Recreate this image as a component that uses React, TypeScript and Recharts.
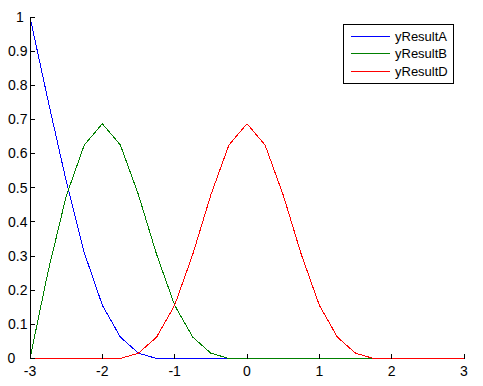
import { LineChart, Line, XAxis, YAxis, Legend } from "recharts";

// sample grid, step 0.25
const xValues = [
  -3, -2.75, -2.5, -2.25, -2, -1.75, -1.5, -1.25, -1, -0.75, -0.5, -0.25, 0,
  0.25, 0.5, 0.75, 1, 1.25, 1.5, 1.75, 2, 2.25, 2.5, 2.75, 3,
];

const yResultA = [
  1, 0.755, 0.52, 0.31, 0.156, 0.0625, 0.0156, 0, 0, 0, 0, 0, 0, 0, 0, 0, 0,
  0, 0, 0, 0, 0, 0, 0, 0,
];
const yResultB = [
  0, 0.255, 0.475, 0.625, 0.6875, 0.625, 0.479, 0.305, 0.156, 0.0625, 0.0156,
  0, 0, 0, 0, 0, 0, 0, 0, 0, 0, 0, 0, 0, 0,
];
const yResultD = [
  0, 0, 0, 0, 0, 0, 0.0156, 0.0625, 0.156, 0.305, 0.479, 0.625, 0.6875, 0.625,
  0.479, 0.305, 0.156, 0.0625, 0.0156, 0, 0, 0, 0, 0, 0,
];

const xTicks = [-3, -2, -1, 0, 1, 2, 3];
const yTicks = [0, 0.1, 0.2, 0.3, 0.4, 0.5, 0.6, 0.7, 0.8, 0.9, 1];
// tiny pad below zero so the zero-valued segments land inside the plot box
const yDomain = [-0.0015, 1];

const series = [
  { key: "yResultA", color: "#0000ff" },
  { key: "yResultB", color: "#008000" },
  { key: "yResultD", color: "#ff0000" },
];

const data = xValues.map((x, i) => ({
  x,
  yResultA: yResultA[i],
  yResultB: yResultB[i],
  yResultD: yResultD[i],
}));

const FONT = '"Liberation Sans", Arial, sans-serif';
const TICK = 5;

function BottomTick(props: any) {
  const { x, y, payload } = props;
  return (
    <g>
      <line x1={x} x2={x} y1={y} y2={y - TICK} stroke="#000" shapeRendering="crispEdges" />
      <text x={x} y={y + 17} textAnchor="middle" fontFamily={FONT} fontSize={14} fill="#000">
        {String(payload.value)}
      </text>
    </g>
  );
}

function TopTick(props: any) {
  const { x, y } = props;
  return <line x1={x} x2={x} y1={y} y2={y + TICK} stroke="#000" shapeRendering="crispEdges" />;
}

function LeftTick(props: any) {
  const { x, y, payload } = props;
  const label = String(payload.value);
  let tx = x - 2.5;
  let anchor = "end";
  if (label === "0") {
    tx = x - 22.5;
    anchor = "start";
  } else if (label === "1") {
    tx = x - 10;
    anchor = "middle";
  }
  return (
    <g>
      <line x1={x} x2={x + TICK} y1={y} y2={y} stroke="#000" shapeRendering="crispEdges" />
      <text x={tx} y={y} dy="0.35em" textAnchor={anchor} fontFamily={FONT} fontSize={14} fill="#000">
        {label}
      </text>
    </g>
  );
}

function RightTick(props: any) {
  const { x, y } = props;
  return <line x1={x} x2={x - TICK} y1={y} y2={y} stroke="#000" shapeRendering="crispEdges" />;
}

function LegendBox() {
  return (
    <svg width={111} height={60} style={{ display: "block" }}>
      <rect x={0.5} y={0.5} width={110} height={59} fill="#fff" stroke="#000" shapeRendering="crispEdges" />
      {series.map((s, i) => {
        const cy = 12 + i * 17.7;
        return (
          <g key={s.key}>
            <line x1={8} x2={47} y1={cy} y2={cy} stroke={s.color} shapeRendering="crispEdges" />
            <text x={52} y={cy} dy="0.36em" fontFamily={FONT} fontSize={13} fill="#000">
              {s.key}
            </text>
          </g>
        );
      })}
    </svg>
  );
}

export default function App() {
  return (
    <div style={{ position: "absolute", left: 0, top: 0, background: "#fff" }}>
      <LineChart
        width={483}
        height={386}
        data={data}
        margin={{ top: 17, right: 19, left: 0, bottom: 0 }}
      >
        <XAxis
          dataKey="x"
          type="number"
          domain={[-3, 3]}
          ticks={xTicks}
          height={27}
          tickSize={0}
          tickMargin={0}
          tickLine={false}
          axisLine={false}
          tick={<BottomTick />}
          interval={0}
        />
        <XAxis
          xAxisId="top"
          orientation="top"
          dataKey="x"
          type="number"
          domain={[-3, 3]}
          ticks={xTicks}
          height={0}
          tickSize={0}
          tickMargin={0}
          tickLine={false}
          axisLine={{ stroke: "#000", shapeRendering: "crispEdges" }}
          tick={<TopTick />}
          interval={0}
        />
        <YAxis
          type="number"
          domain={yDomain}
          ticks={yTicks}
          width={30}
          tickSize={0}
          tickMargin={0}
          tickLine={false}
          axisLine={{ stroke: "#000", shapeRendering: "crispEdges" }}
          tick={<LeftTick />}
          interval={0}
        />
        <YAxis
          yAxisId="right"
          orientation="right"
          type="number"
          domain={yDomain}
          ticks={yTicks}
          width={0}
          tickSize={0}
          tickMargin={0}
          tickLine={false}
          axisLine={{ stroke: "#000", shapeRendering: "crispEdges" }}
          tick={<RightTick />}
          interval={0}
        />
        {series.map((s) => (
          <Line
            key={s.key}
            dataKey={s.key}
            type="linear"
            stroke={s.color}
            strokeWidth={1}
            shapeRendering="crispEdges"
            dot={false}
            activeDot={false}
            isAnimationActive={false}
          />
        ))}
        <Legend
          layout="vertical"
          align="center"
          verticalAlign="middle"
          content={<LegendBox />}
          wrapperStyle={{ left: 343, top: 24, width: 111, height: 60 }}
        />
      </LineChart>
    </div>
  );
}
